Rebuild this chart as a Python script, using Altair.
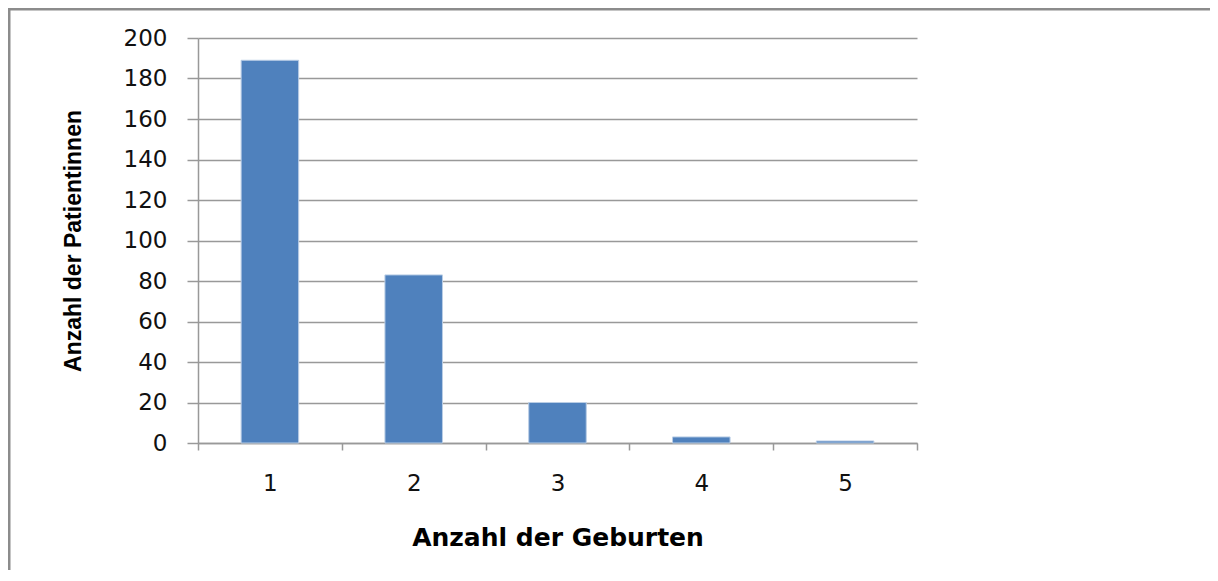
import altair as alt
import pandas as pd

births = ["1", "2", "3", "4", "5"]
patients = [189, 83, 20, 3, 1]

df = pd.DataFrame({"Geburten": births, "Patientinnen": patients})

W, H = 719, 405
PL, PT = 190, 30
TOTAL_W, TOTAL_H = 1202, 562
PR = TOTAL_W - PL - W
PB = TOTAL_H - PT - H

bars = alt.Chart(df).mark_bar(
    color="#4f81bd", stroke="#b9cde5", strokeWidth=1,
    width=alt.RelativeBandSize(0.4),
).encode(
    x=alt.X(
        "Geburten:N",
        sort=births,
        title="Anzahl der Geburten",
        scale=alt.Scale(paddingInner=0, paddingOuter=0),
        axis=alt.Axis(
            labelAngle=0,
            tickBand="extent",
            tickSize=7,
            labelPadding=22,
            titlePadding=30,
            labelFontSize=23,
            titleFontSize=25,
            titleFontWeight="bold",
            titleFont="DejaVu Sans",
            labelFont="DejaVu Sans",
            grid=False,
        ),
    ),
    y=alt.Y(
        "Patientinnen:Q",
        title="Anzahl der Patientinnen",
        scale=alt.Scale(domain=[0, 200], nice=False),
        axis=alt.Axis(
            values=list(range(0, 201, 20)),
            tickSize=11,
            labelPadding=20,
            titlePadding=38,
            labelFontSize=23,
            titleFontSize=23,
            titleFontWeight="bold",
            titleFont="Liberation Sans",
            labelFont="DejaVu Sans",
            grid=True,
        ),
    ),
)

border = alt.Chart(alt.Data(values=[{}])).mark_rect(
    fill=None, stroke="#8c8c8c", strokeWidth=3
).encode(
    x=alt.value(-PL + 1),
    x2=alt.value(W + PR + 20),
    y=alt.value(-PT + 1),
    y2=alt.value(H + PB + 20),
)

chart = alt.layer(bars, border).properties(
    width=W,
    height=H,
    autosize=alt.AutoSizeParams(type="none"),
    padding={"left": PL, "top": PT, "right": PR, "bottom": PB},
    background="white",
).configure_view(
    stroke=None
).configure_axis(
    domainColor="#999999",
    domainWidth=1.5,
    tickColor="#999999",
    tickWidth=1.5,
    gridColor="#999999",
    gridWidth=1.5,
    labelColor="#111111",
    titleColor="#000000",
)

chart.save("out.html", embed_options={"renderer": "svg", "actions": False})
